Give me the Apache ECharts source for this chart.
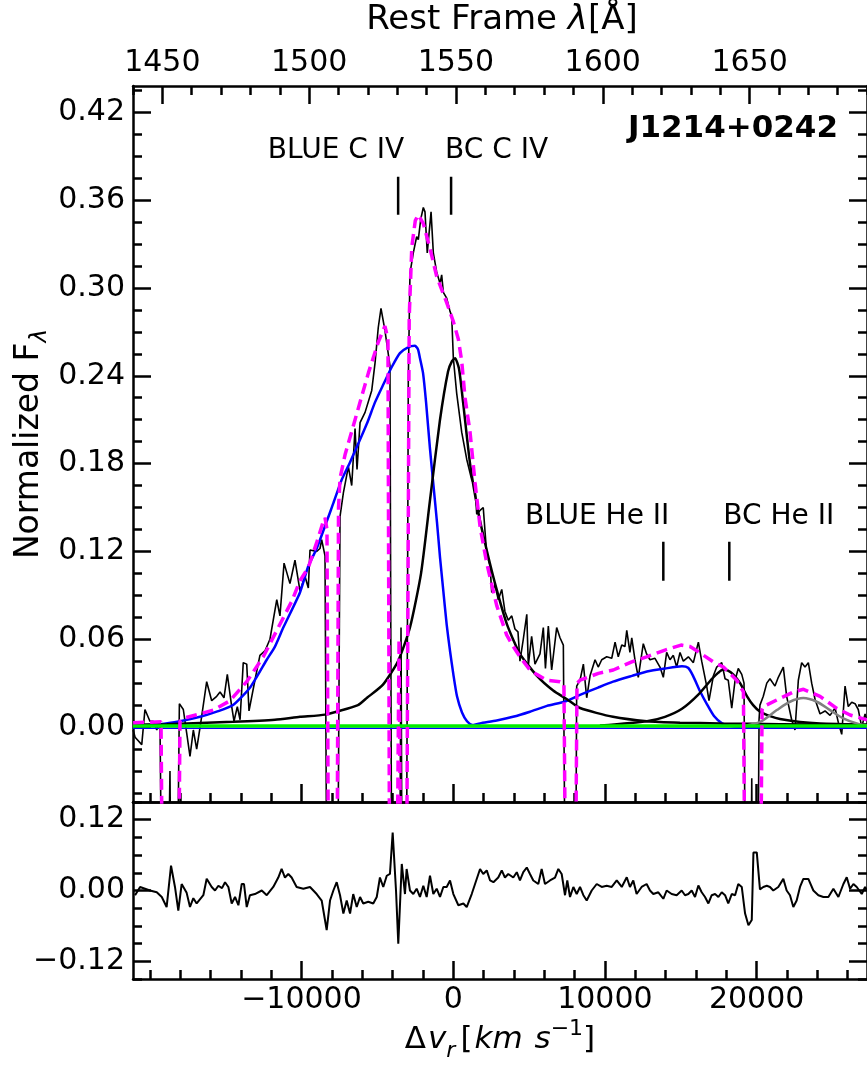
<!DOCTYPE html>
<html><head><meta charset="utf-8">
<script src="https://cdn.jsdelivr.net/npm/echarts@6/dist/echarts.min.js"></script>
<style>html,body{margin:0;padding:0;background:#fff}#c{width:867px;height:1065px}</style>
</head><body><div id="c"></div>
<script>
// ---------------- DATA (velocity km/s, normalized flux) ----------------
const observed = [[-21100,-0.002],[-20970,-0.007],[-20530,-0.012],[-20320,0.012],[-19990,0.004],[-19770,0.004],[-19540,-0.002],[-19330,0.004],[-19130,-0.2],[-18900,-0.2],[-18670,-0.03],[-18540,-0.2],[-18270,-0.2],[-18050,0.016],[-17790,0.012],[-17570,-0.004],[-17350,-0.02],[-17130,-0.002],[-16910,-0.015],[-16640,0.003],[-16250,0.031],[-15920,0.018],[-15590,0.021],[-15370,0.024],[-15110,0.02],[-14890,0.036],[-14600,0.014],[-14450,0.004],[-14230,0.014],[-14050,0.005],[-13840,0.044],[-13610,0.043],[-13460,0.011],[-13070,0.032],[-12740,0.049],[-12410,0.052],[-12080,0.06],[-11630,0.087],[-11420,0.076],[-11150,0.112],[-10760,0.098],[-10430,0.114],[-10100,0.093],[-9770,0.103],[-9550,0.095],[-9440,0.121],[-9000,0.12],[-8780,0.122],[-8670,0.128],[-8450,0.117],[-8290,-0.2],[-7660,-0.2],[-7460,0.144],[-7240,0.16],[-6910,0.178],[-6690,0.165],[-6470,0.204],[-6340,0.176],[-6140,0.208],[-5810,0.215],[-5370,0.23],[-5150,0.249],[-4940,0.273],[-4760,0.286],[-4500,0.271],[-4170,0.247],[-4030,-0.2],[-3570,-0.2],[-3440,0.068],[-3340,-0.2],[-3110,-0.2],[-2960,0.237],[-2850,0.31],[-2630,0.324],[-2410,0.335],[-2300,0.333],[-2140,0.347],[-1970,0.355],[-1860,0.352],[-1710,0.324],[-1460,0.352],[-1310,0.324],[-1090,0.311],[-870,0.303],[-760,0.309],[-650,0.297],[-430,0.293],[-210,0.284],[-100,0.281],[10,0.252],[230,0.228],[560,0.2015],[890,0.183],[1220,0.169],[1440,0.164],[1550,0.1455],[1770,0.148],[1980,0.15],[2210,0.118],[2430,0.11],[2540,0.092],[2760,0.097],[2970,0.087],[3200,0.094],[3410,0.079],[3630,0.073],[3860,0.076],[4070,0.067],[4270,0.065],[4400,0.045],[4620,0.06],[4850,0.077],[4950,0.042],[5170,0.062],[5390,0.043],[5720,0.05],[5940,0.068],[6080,0.04],[6270,0.069],[6490,0.039],[6820,0.068],[7040,0.061],[7260,0.056],[7440,-0.2],[8030,-0.2],[8140,0.028],[8360,0.032],[8580,0.043],[8800,0.02],[9020,0.035],[9350,0.046],[9560,0.041],[9790,0.046],[10120,0.048],[10450,0.047],[10670,0.058],[10880,0.048],[11110,0.056],[11320,0.055],[11440,0.066],[11650,0.051],[11770,0.061],[11980,0.046],[12200,0.034],[12530,0.057],[12750,0.05],[12970,0.046],[13300,0.047],[13630,0.041],[13850,0.034],[14070,0.051],[14290,0.046],[14510,0.049],[14730,0.041],[14950,0.051],[15170,0.045],[15500,0.048],[15830,0.044],[16160,0.058],[16380,0.045],[16710,0.028],[16860,0.018],[17150,0.035],[17370,0.041],[17700,0.044],[17920,0.033],[18130,0.032],[18360,0.013],[18580,0.032],[18790,0.04],[19020,0.036],[19170,0.03],[19300,-0.2],[19560,-0.2],[19680,-0.035],[19760,-0.2],[20030,-0.2],[20160,0.005],[20220,0.015],[20440,0.021],[20670,0.03],[20880,0.033],[21210,0.028],[21430,0.034],[21760,0.041],[21980,0.021],[22310,0.005],[22530,-0.002],[22750,0.032],[22970,0.044],[23190,0.041],[23410,0.044],[23630,0.03],[23850,0.019],[24180,0.009],[24510,0.011],[24840,0.008],[25170,0.013],[25390,0.003],[25610,-0.005],[25830,0.028],[26040,0.014],[26270,0.017],[26490,0.016],[26700,0.012],[26930,0.0],[27150,0.009],[27280,0.004]];

const residual = [[-20970,-0.008],[-20640,0.006],[-19990,0],[-19540,-0.003],[-19210,-0.011],[-18890,-0.028],[-18600,0.042],[-18340,0.006],[-18120,-0.034],[-17900,0.011],[-17570,-0.004],[-17350,-0.028],[-17130,-0.013],[-16910,-0.022],[-16470,-0.008],[-16250,0.02],[-15920,0.006],[-15700,0],[-15480,0.008],[-15240,0.004],[-15040,0.014],[-14820,0.006],[-14600,-0.022],[-14380,-0.011],[-14160,-0.025],[-13940,0.011],[-13790,0.011],[-13610,-0.028],[-13400,-0.008],[-13070,-0.006],[-12620,0],[-12290,-0.008],[-11860,0.006],[-11530,0.022],[-11310,0.0365],[-11090,0.022],[-10870,0.028],[-10650,0.022],[-10320,0.006],[-9880,0.003],[-9440,0.006],[-9000,-0.006],[-8670,-0.017],[-8340,-0.067],[-8120,-0.017],[-7900,0],[-7680,0.014],[-7460,-0.008],[-7240,-0.039],[-7020,-0.017],[-6800,-0.039],[-6590,-0.006],[-6360,-0.028],[-6140,-0.011],[-5930,-0.022],[-5600,-0.019],[-5270,-0.022],[-5040,-0.011],[-4830,0.022],[-4610,0.006],[-4380,0.025],[-4170,0.028],[-3990,0.098],[-3770,0],[-3620,-0.09],[-3390,0.045],[-3180,-0.006],[-3070,0.0365],[-2850,0],[-2630,-0.006],[-2410,0.003],[-2190,-0.011],[-1970,0.008],[-1750,-0.011],[-1530,0.025],[-1310,-0.006],[-1090,0.003],[-870,-0.011],[-650,0.006],[-430,0.006],[-210,0.017],[10,-0.006],[340,-0.025],[670,-0.022],[890,-0.028],[1220,-0.006],[1440,0.011],[1770,0.0365],[1980,0.028],[2210,0.034],[2430,0.017],[2650,0.014],[2970,0.022],[3200,0.034],[3410,0.022],[3630,0.028],[3960,0.022],[4190,0.031],[4400,0.017],[4620,0.031],[4850,0.039],[5060,0.028],[5280,0.017],[5610,0.011],[5830,0.0365],[6050,0.011],[6380,0.017],[6710,0.022],[6930,0.0365],[7150,0.028],[7370,-0.008],[7520,0.017],[7700,-0.011],[7920,0.006],[8140,-0.006],[8360,0.006],[8580,-0.008],[8800,-0.017],[9130,0],[9460,0.011],[9790,0.006],[10120,0.008],[10450,0.006],[10780,0.017],[11110,0.006],[11440,0.0224],[11650,0.006],[11870,0.017],[12090,-0.006],[12420,0.006],[12750,0.011],[12970,0],[13190,-0.006],[13520,-0.003],[13850,-0.014],[14070,0],[14400,-0.006],[14730,-0.008],[15060,0],[15280,-0.008],[15500,-0.006],[15720,0],[15940,-0.011],[16160,0.0084],[16380,-0.003],[16600,-0.011],[16820,-0.022],[17040,-0.008],[17260,-0.006],[17480,-0.011],[17700,-0.003],[17920,-0.008],[18130,-0.022],[18360,-0.006],[18580,-0.008],[18790,0.011],[19020,0.006],[19240,-0.039],[19460,-0.059],[19680,-0.05],[19790,0.0645],[20010,0.0645],[20220,0.002],[20440,0.006],[20670,0.008],[20880,0.006],[21100,0],[21430,0.006],[21760,0.0197],[21980,0],[22200,-0.008],[22420,-0.028],[22640,-0.017],[22860,0.006],[23080,0.0197],[23410,0.0197],[23740,0],[24070,-0.008],[24400,-0.011],[24730,-0.011],[25060,0.003],[25390,-0.011],[25720,0.011],[25940,0.0224],[26160,0.003],[26380,0.011],[26600,0.006],[26930,-0.006],[27150,0.006],[27280,0]];

const blueCIV = [[-21100,0.001],[-19330,0.002],[-18010,0.004],[-16690,0.007],[-15590,0.0105],[-14510,0.015],[-13390,0.027],[-12290,0.046],[-11750,0.055],[-11200,0.068],[-10100,0.092],[-9550,0.11],[-9000,0.122],[-7900,0.153],[-7350,0.169],[-6800,0.181],[-5700,0.207],[-5150,0.222],[-4610,0.234],[-4050,0.246],[-3510,0.2555],[-2980,0.2595],[-2520,0.2605],[-2320,0.258],[-2190,0.252],[-1990,0.242],[-1790,0.222],[-1530,0.19],[-1300,0.165],[-1070,0.14],[-870,0.116],[-670,0.095],[-430,0.07],[-210,0.052],[10,0.036],[250,0.021],[580,0.01],[910,0.004],[1240,0.0015],[1770,0.001]];

const bcCIV = [[-21100,0.0015],[-18870,0.002],[-14520,0.0036],[-11750,0.005],[-10100,0.007],[-8450,0.0085],[-6280,0.015],[-5680,0.02],[-4630,0.029],[-3640,0.045],[-2850,0.068],[-2120,0.105],[-1530,0.155],[-870,0.21],[-340,0.243],[-80,0.25],[120,0.252],[380,0.245],[650,0.222],[1110,0.18],[1630,0.148],[2230,0.12],[2890,0.093],[3550,0.07],[4400,0.05],[5520,0.035],[6590,0.025],[7500,0.019],[8360,0.013],[10530,0.007],[12770,0.004],[14950,0.003],[17590,0.0025],[21540,0.002],[27280,0.0015]];

const blueHeII = [[1110,0.001],[1770,0.0025],[2870,0.0045],[3940,0.007],[5060,0.0105],[6180,0.0145],[7370,0.0175],[8360,0.022],[9550,0.027],[10540,0.031],[11790,0.035],[12770,0.038],[13960,0.04],[15080,0.0415],[15480,0.0405],[15810,0.035],[16270,0.0245],[16730,0.0155],[17190,0.0075],[17720,0.0025],[18240,0.0008],[18900,0.0002],[27280,0]];

const bcHeII = [[9670,0.001],[12770,0.004],[13960,0.007],[15080,0.0125],[16140,0.022],[17060,0.033],[17460,0.037],[17790,0.0393],[18120,0.0385],[18450,0.036],[18910,0.03],[19370,0.021],[19770,0.015],[20230,0.0105],[20890,0.0075],[21540,0.0055],[22860,0.0035],[24180,0.0025],[25960,0.002],[27280,0.0015]];

const otherLine = [[18910,0.0005],[20230,0.0036],[21330,0.0116],[22200,0.0173],[23080,0.0198],[23960,0.0173],[24840,0.0116],[25710,0.006],[26600,0.0025],[27280,0.001]];

const totalFit = [[-21100,0.003],[-19260,0.0036],[-19100,-0.2],[-18170,-0.2],[-18010,0.004],[-17790,0.006],[-16690,0.009],[-15810,0.0116],[-14710,0.018],[-13610,0.031],[-12520,0.048],[-11630,0.066],[-10640,0.086],[-10100,0.1],[-9550,0.109],[-9000,0.126],[-8580,0.14],[-8450,0.143],[-8320,0.135],[-8190,-0.2],[-7690,-0.2],[-7560,0.15],[-7460,0.17],[-7130,0.186],[-6470,0.21],[-5590,0.242],[-4940,0.263],[-4500,0.274],[-4300,0.265],[-4170,-0.2],[-3770,-0.2],[-3570,0.06],[-3400,-0.2],[-3110,-0.2],[-2900,0.28],[-2730,0.328],[-2500,0.346],[-2300,0.35],[-1970,0.344],[-1530,0.327],[-1090,0.308],[-430,0.29],[10,0.277],[340,0.265],[560,0.25],[780,0.225],[1110,0.2015],[1440,0.167],[1770,0.137],[2210,0.112],[2870,0.083],[3520,0.063],[3960,0.055],[4400,0.048],[5060,0.039],[5500,0.036],[6160,0.032],[7040,0.031],[7300,0.03],[7470,-0.2],[8000,-0.2],[8160,0.03],[8360,0.032],[9570,0.0367],[10550,0.039],[11770,0.0446],[12750,0.048],[13960,0.0526],[15020,0.056],[15610,0.055],[16160,0.0514],[17150,0.0445],[17810,0.041],[18690,0.032],[19130,0.024],[19300,-0.2],[20190,-0.2],[20360,0.012],[20440,0.014],[21330,0.0185],[22430,0.024],[23090,0.0258],[24180,0.021],[25280,0.0128],[26160,0.0082],[27280,0.005]];

const continuum = [[-21107,0.0008],[27276,0.0008]];
const blueBase = [[-21107,-0.0008],[27276,-0.0008]];

const markerNames = ['BLUE C IV','BC C IV','BLUE He II','BC He II'];
const markerVel = [-3630,-140,13850,18200];

const velTicks = [-10000,0,10000,20000];
const lamTicks = [1450,1500,1550,1600,1650];
const fluxTicks = [0,0.06,0.12,0.18,0.24,0.30,0.36,0.42];
const resTicks = [-0.12,0,0.12];

// ---------------- LAYOUT / STYLE ----------------
const vMin = -21107, vMax = 27276;          // = 1440..1690 A for CIV 1549.06
const lamMin = 1440, lamMax = 1690;
const fMin = -0.0512, fMax = 0.438;
const rMin = -0.15, rMax = 0.15;
function range(a,b,s,d){const o=[];for(let k=0;a+k*s<=b+1e-9;k++)o.push(+(a+k*s).toFixed(d));return o;}
const velMinor = range(-20000,26000,2000,0);
const lamMinor = range(1440,1690,10,0);
const fluxMinor = range(-0.045,0.435,0.015,3);
const resMinor = range(-0.15,0.15,0.03,2);

const FONT = 'DejaVu Sans';
const FS = 30;
const SP = 2.5;
const MAJ = 18, MIN = 9;
const intFmt = v => (v<0?'\u2212':'') + Math.abs(v);
const decFmt = v => (v<0?'\u2212':'') + Math.abs(v).toFixed(2);

const G0 = {left:133, top:86, width:734, height:716};
const G1 = {left:133, top:802, width:734, height:177};

function ax(o){
  const a = {
    type:'value', gridIndex:o.g, position:o.pos, min:o.min, max:o.max,
    axisLine:{show:!!o.line, onZero:false, lineStyle:{color:'#000', width:SP}},
    axisTick:{show:!!o.ticks, inside:true, length:o.len||MAJ, customValues:o.ticks, lineStyle:{color:'#000', width:SP}},
    axisLabel:{show:false},
    splitLine:{show:false}, minorTick:{show:false}, minorSplitLine:{show:false}
  };
  if (o.labels) a.axisLabel = {show:true, customValues:o.ticks, formatter:o.fmt, color:'#000', fontFamily:FONT, fontSize:FS, margin:o.margin};
  return a;
}

const xAxis = [
  ax({g:0,pos:'bottom',min:vMin,max:vMax,line:1,ticks:velTicks}),
  ax({g:0,pos:'top',min:lamMin,max:lamMax,line:1,ticks:lamTicks,labels:1,fmt:v=>String(v),margin:8}),
  ax({g:1,pos:'bottom',min:vMin,max:vMax,line:1,ticks:velTicks,labels:1,fmt:intFmt,margin:6}),
  ax({g:1,pos:'top',min:vMin,max:vMax,line:1}),
  ax({g:2,pos:'bottom',min:vMin,max:vMax,ticks:velMinor,len:MIN}),
  ax({g:2,pos:'top',min:lamMin,max:lamMax,ticks:lamMinor,len:MIN}),
  ax({g:3,pos:'bottom',min:vMin,max:vMax,ticks:velMinor,len:MIN})
];
const yAxis = [
  ax({g:0,pos:'left',min:fMin,max:fMax,line:1,ticks:fluxTicks,labels:1,fmt:decFmt,margin:8}),
  ax({g:0,pos:'right',min:fMin,max:fMax,line:1,ticks:fluxTicks}),
  ax({g:1,pos:'left',min:rMin,max:rMax,line:1,ticks:resTicks,labels:1,fmt:decFmt,margin:8}),
  ax({g:1,pos:'right',min:rMin,max:rMax,line:1,ticks:resTicks}),
  ax({g:2,pos:'left',min:fMin,max:fMax,ticks:fluxMinor,len:MIN}),
  ax({g:2,pos:'right',min:fMin,max:fMax,ticks:fluxMinor,len:MIN}),
  ax({g:3,pos:'left',min:rMin,max:rMax,ticks:resMinor,len:MIN}),
  ax({g:3,pos:'right',min:rMin,max:rMax,ticks:resMinor,len:MIN})
];

function line(name,data,color,width,z,extra){
  return Object.assign({name,type:'line',xAxisIndex:0,yAxisIndex:0,data,showSymbol:false,symbol:'none',
    lineStyle:{color,width},z,clip:true,animation:false},extra||{});
}

const series = [
  line('observed',observed,'#000',1.6,2),
  line('blue base',blueBase,'#0000ff',1.3,3),
  line('BLUE C IV',blueCIV,'#0000ff',2.5,3,{smooth:0.2}),
  line('BLUE He II',blueHeII,'#0000ff',2.5,3,{smooth:0.2}),
  line('BC C IV',bcCIV,'#000',2.5,3,{smooth:0.2}),
  line('BC He II',bcHeII,'#000',2.5,3,{smooth:0.2}),
  line('other',otherLine,'#808080',2.5,3,{smooth:0.3}),
  line('continuum',continuum,'#00ee00',3.5,4),
  line('total',totalFit,'#ff00ff',3.5,5,{lineStyle:{color:'#ff00ff',width:3.5,type:[11,6]}}),
  {name:'residual',type:'line',xAxisIndex:2,yAxisIndex:2,data:residual,showSymbol:false,symbol:'none',lineStyle:{color:'#000',width:2},z:3,animation:false}
];
// line markers
const markY = [[0.350,0.376],[0.350,0.376],[0.100,0.1266],[0.100,0.1266]];
const labY = [0.3935,0.3935,0.1437,0.1437];
markerVel.forEach((v,i)=>{
  series.push(line('m'+i,[[v,markY[i][0]],[v,markY[i][1]]],'#000',2.5,6));
  const blue = markerNames[i].startsWith('BLUE');
  series.push({type:'scatter',xAxisIndex:0,yAxisIndex:0,symbolSize:0,z:6,animation:false,silent:true,
    itemStyle:{opacity:1},
    data:[[v,labY[i]]],
    label:{show:true,opacity:1,formatter:markerNames[i],position:[blue?6:-6,0],align:blue?'right':'left',verticalAlign:'middle',
      color:'#000',fontFamily:FONT,fontSize:28}});
});

const option = {
  animation:false,
  backgroundColor:'#fff',
  grid:[G0,G1,Object.assign({},G0),Object.assign({},G1)],
  xAxis, yAxis, series,
  graphic:[
    {type:'text',x:502,y:20,style:{text:'{n|Rest Frame }{i|λ}{n|[Å]}',align:'center',verticalAlign:'middle',
      rich:{n:{fontSize:34,fontFamily:FONT,fill:'#000'},i:{fontSize:34,fontFamily:FONT,fontStyle:'italic',fill:'#000'}}}},
    {type:'text',x:501,y:1040,style:{text:'{n|Δ}{i|v}{s|r}{n|[}{i|km}{n| }{i|s}{p|−1}{n|]}',align:'center',verticalAlign:'middle',
      rich:{n:{fontSize:31,fontFamily:FONT,fill:'#000',lineHeight:44,padding:[0,2,0,0]},i:{fontSize:31,fontFamily:FONT,fontStyle:'italic',fill:'#000',lineHeight:44},
            s:{fontSize:22,fontFamily:FONT,fontStyle:'italic',fill:'#000',lineHeight:22,verticalAlign:'bottom',padding:[0,5,0,0]},
            p:{fontSize:22,fontFamily:FONT,fill:'#000',lineHeight:22,verticalAlign:'top'}}}},
    {type:'text',x:29,y:444,rotation:Math.PI/2,style:{text:'{n|Normalized F}{s|λ}',align:'center',verticalAlign:'middle',
      rich:{n:{fontSize:33,fontFamily:FONT,fill:'#000',lineHeight:46},s:{fontSize:23,fontFamily:FONT,fontStyle:'italic',fill:'#000',lineHeight:23,verticalAlign:'bottom'}}}},
    {type:'text',x:838,y:129,style:{text:'J1214+0242',align:'right',verticalAlign:'middle',fontSize:31,fontWeight:'bold',fontFamily:FONT,fill:'#000'}}
  ]
};
const chart = echarts.init(document.getElementById('c'),null,{renderer:'canvas'});
chart.setOption(option);
</script></body></html>
